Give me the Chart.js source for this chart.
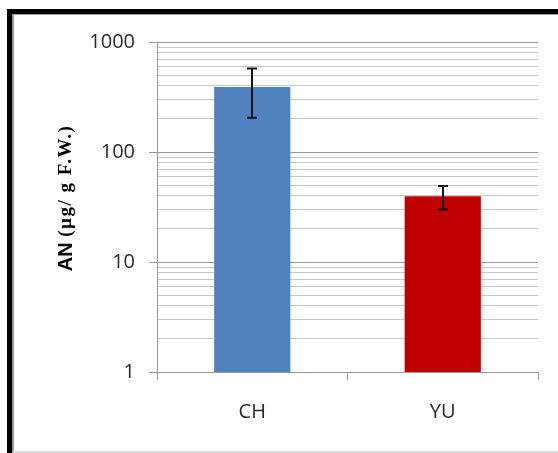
<!DOCTYPE html>
<html>
<head>
<meta charset="utf-8">
<script src="https://cdn.jsdelivr.net/npm/chart.js@4"></script>
<style>
  html, body { margin: 0; padding: 0; background: #fff; }
  #wrap { position: relative; width: 558px; height: 453px; overflow: hidden; background: #fff; }
  #frame { position: absolute; left: 7px; top: 9px; width: 600px; height: 500px;
           border-left: 5px solid #000; border-top: 5px solid #000; box-sizing: border-box; }
  #inner { position: absolute; left: 12px; top: 14px; width: 600px; height: 439px;
           border-left: 2px solid #9a9a9a; border-top: 1px solid #9a9a9a;
           border-bottom: 2px solid #dcdcdc; box-sizing: border-box; }
  canvas { position: absolute; left: 0; top: 0; }
</style>
</head>
<body>
<div id="wrap">
  <div id="frame"></div>
  <div id="inner"></div>
  <canvas id="chart" width="558" height="453"></canvas>
</div>
<script>
// Anthocyanin content per cultivar (log scale), mean and error
const categories = ['CH', 'YU'];
const anValues = [390, 39.5];
const anErrors = [185, 9.5];
const barColors = ['#4F81BD', '#C00000'];

// Log-axis grid positions: every integer step within each decade
const yTickValues = [1, 2, 3, 4, 5, 6, 7, 8, 9,
                     10, 20, 30, 40, 50, 60, 70, 80, 90,
                     100, 200, 300, 400, 500, 600, 700, 800, 900,
                     1000];
const yTitleSans = 'AN ';
const yTitleSerif = '(µg/ g F.W.)';

const isPow10 = v => Math.abs(Math.log10(v) - Math.round(Math.log10(v))) < 1e-9;

const tickFont = { family: "'Open Sans', 'Liberation Sans', sans-serif", size: 20 };

// Vertical error bars with end caps
const errorBars = {
  id: 'errorBars',
  afterDatasetsDraw(chart) {
    const meta = chart.getDatasetMeta(0);
    const y = chart.scales.y;
    const ctx = chart.ctx;
    ctx.save();
    ctx.strokeStyle = '#111';
    ctx.lineWidth = 2;
    meta.data.forEach((bar, i) => {
      const top = y.getPixelForValue(anValues[i] + anErrors[i]);
      const bot = y.getPixelForValue(anValues[i] - anErrors[i]);
      const x = Math.round(bar.x);
      ctx.beginPath();
      ctx.moveTo(x, top); ctx.lineTo(x, bot);
      ctx.moveTo(x - 5, top); ctx.lineTo(x + 5, top);
      ctx.moveTo(x - 5, bot); ctx.lineTo(x + 5, bot);
      ctx.stroke();
    });
    ctx.restore();
  }
};

// Rotated y-axis title: sans "AN" followed by a serif unit
const yTitle = {
  id: 'yTitle',
  afterDraw(chart) {
    const ctx = chart.ctx;
    ctx.save();
    ctx.translate(66, 198);
    ctx.rotate(-Math.PI / 2);
    ctx.fillStyle = '#000';
    ctx.textBaseline = 'middle';
    ctx.font = "bold 20px 'Liberation Sans', Arial, sans-serif";
    const w1 = ctx.measureText(yTitleSans).width;
    ctx.font = "bold 19px 'Liberation Serif', 'Times New Roman', serif";
    ctx.letterSpacing = '1.5px';
    const w2 = ctx.measureText(yTitleSerif).width;
    const start = -(w1 + w2) / 2;
    ctx.letterSpacing = '0px';
    ctx.font = "bold 20px 'Liberation Sans', Arial, sans-serif";
    ctx.textAlign = 'left';
    ctx.fillText(yTitleSans, start, 0);
    ctx.font = "bold 19px 'Liberation Serif', 'Times New Roman', serif";
    ctx.letterSpacing = '1.5px';
    ctx.fillText(yTitleSerif, start + w1, 0);
    ctx.restore();
  }
};

new Chart(document.getElementById('chart'), {
  type: 'bar',
  data: {
    labels: categories,
    datasets: [{
      data: anValues,
      backgroundColor: barColors,
      borderWidth: 0,
      categoryPercentage: 0.5,
      barPercentage: 0.8
    }]
  },
  options: {
    responsive: false,
    animation: false,
    devicePixelRatio: 1,
    layout: { padding: { left: 0, top: 42, right: 20, bottom: 0 } },
    plugins: { legend: { display: false }, tooltip: { enabled: false } },
    scales: {
      x: {
        grid: { offset: true, drawOnChartArea: false, drawTicks: true, tickLength: 8,
                color: '#9a9a9a', tickColor: '#9a9a9a', lineWidth: 1 },
        border: { color: '#9a9a9a', width: 1 },
        ticks: { font: tickFont, color: '#2a2a2a', padding: 20 },
        afterFit(s) { s.height = 81; }
      },
      y: {
        type: 'logarithmic',
        min: 1,
        max: 1000,
        afterBuildTicks(s) {
          s.ticks = yTickValues.map(v => ({ value: v, major: isPow10(v) }));
        },
        ticks: {
          autoSkip: false,
          font: tickFont,
          color: '#2a2a2a',
          padding: 14,
          callback: v => (isPow10(v) ? String(v) : '')
        },
        grid: {
          tickLength: 8,
          lineWidth: 1,
          color: c => (c.tick && isPow10(c.tick.value) ? '#969696' : '#c8c8c8'),
          tickColor: c => (c.tick && isPow10(c.tick.value) ? '#969696' : 'rgba(0,0,0,0)')
        },
        border: { color: '#9a9a9a', width: 1 },
        afterFit(s) { s.width = 157; }
      }
    }
  },
  plugins: [errorBars, yTitle]
});
</script>
</body>
</html>
